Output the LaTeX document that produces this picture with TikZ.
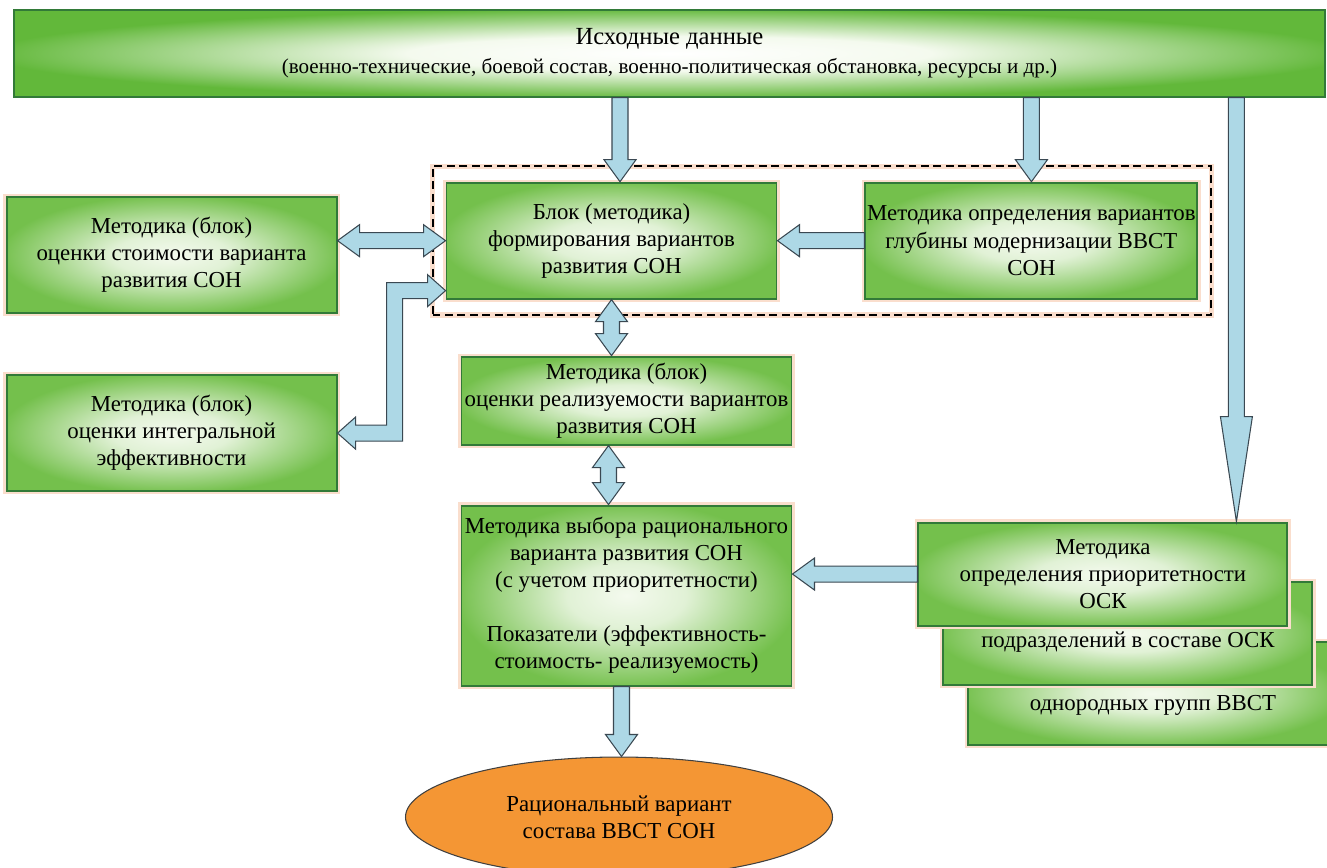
\documentclass[tikz,border=0pt]{standalone}
\usepackage{fontspec}
\setmainfont{Liberation Serif}
\newfontfamily\boxfont{Liberation Serif}
\usepackage{tikz}
\usetikzlibrary{positioning}
\usetikzlibrary{calc}
\usetikzlibrary{fit}
\usetikzlibrary{shapes.geometric}
\usepackage{xcolor}

\definecolor{boxout}{RGB}{116,192,76}
\definecolor{boxin}{RGB}{244,250,238}
\definecolor{barout}{RGB}{98,184,58}
\definecolor{boxline}{RGB}{50,122,56}
\definecolor{flowfill}{RGB}{173,216,230}
\definecolor{flowline}{RGB}{58,72,82}
\definecolor{resfill}{RGB}{244,150,52}
\definecolor{halo}{RGB}{250,222,205}

\pgfdeclareradialshading{glow}{\pgfpoint{0bp}{0bp}}{color(0bp)=(boxin); color(9bp)=(boxin!85!boxout); color(26bp)=(boxout); color(50bp)=(boxout)}
\pgfdeclareradialshading{barglow}{\pgfpoint{0bp}{0bp}}{color(0bp)=(white); color(10bp)=(boxin); color(26bp)=(barout); color(50bp)=(barout)}

\tikzset{
	method/.style={rectangle, draw=boxline, line width=1.1pt, shade, shading=glow, preaction={draw=halo, line width=3.5pt}, minimum width=6.6cm, minimum height=2.32cm, align=center, inner sep=1pt, font=\boxfont\fontsize{13}{15.4}\selectfont},
	prio/.style={method, minimum width=7.38cm, minimum height=2.06cm},
	topbar/.style={rectangle, draw=boxline, line width=0.8pt, shade, shading=barglow, minimum width=26.22cm, minimum height=1.74cm, align=center, font=\boxfont\fontsize{12}{15.4}\selectfont},
	result/.style={ellipse, draw=black!75, line width=0.6pt, fill=resfill, minimum width=8.54cm, minimum height=2.4cm, align=center, font=\boxfont\fontsize{13}{15.4}\selectfont},
	lbl/.style={align=center, font=\boxfont\fontsize{13}{15.4}\selectfont},
	frame/.style={draw=black, line width=1.1pt, dash pattern=on 4.5pt off 2.6pt, preaction={draw=halo, line width=3pt, solid}, inner xsep=0.26cm, inner ysep=0.31cm},
	flow/.style={fill=flowfill, draw=flowline, line width=0.6pt, line join=miter}
}

% block arrow from #2 to #3, optional head length
\newcommand{\barrow}[3][0.44cm]{%
	\coordinate (hb) at ($(#3)!#1!(#2)$);
	\draw[flow] ($(#2)!0.16cm!90:(#3)$) -- ($(hb)!0.16cm!90:(#3)$) -- ($(hb)!0.32cm!90:(#3)$) -- (#3) -- ($(hb)!0.32cm!-90:(#3)$) -- ($(hb)!0.16cm!-90:(#3)$) -- ($(#2)!0.16cm!-90:(#3)$) -- cycle;}
% two-headed block arrow
\newcommand{\dbarrow}[2]{%
	\coordinate (ha) at ($(#1)!0.44cm!(#2)$);
	\coordinate (hb) at ($(#2)!0.44cm!(#1)$);
	\draw[flow] (#1) -- ($(ha)!0.32cm!90:(#2)$) -- ($(ha)!0.16cm!90:(#2)$) -- ($(hb)!0.16cm!90:(#2)$) -- ($(hb)!0.32cm!90:(#2)$) -- (#2) -- ($(hb)!0.32cm!-90:(#2)$) -- ($(hb)!0.16cm!-90:(#2)$) -- ($(ha)!0.16cm!-90:(#2)$) -- ($(ha)!0.32cm!-90:(#2)$) -- cycle;}

\begin{document}
\begin{tikzpicture}
	\useasboundingbox (0,0) rectangle (26.54,-17.36);

	\node[topbar](src) at (13.39,-1.07){{\fontsize{14}{16}\selectfont Исходные данные}\\[1pt](военно-технические, боевой состав, военно-политическая обстановка, ресурсы и др.)};

	\node[method, below=1.68cm of src, xshift=-1.16cm](form){Блок (методика)\\формирования вариантов\\развития СОН};
	\node[method, right=1.74cm of form](depth){Методика определения вариантов\\глубины модернизации ВВСТ\\СОН};
	\node[method, left=2.16cm of form, yshift=-0.29cm](cost){Методика (блок)\\оценки стоимости варианта\\развития СОН};
	\node[method, below=1.2cm of cost](integ){Методика (блок)\\оценки интегральной\\эффективности};
	\node[method, below=1.12cm of form, xshift=0.3cm, minimum height=1.76cm](feas){Методика (блок)\\оценки реализуемости вариантов\\развития СОН};
	\node[method, below=1.18cm of feas, minimum height=3.6cm](choice){Методика выбора рационального\\варианта развития СОН\\(с учетом приоритетности)\\[15.4pt]Показатели (эффективность-\\стоимость- реализуемость)};
	\node[result, below=1.4cm of choice, xshift=-0.15cm](res){Рациональный вариант\\состава ВВСТ СОН};

	\node[frame, fit=(form)(depth)](modgroup){};

	% priority blocks, back to front
	\node[prio, right=3.5cm of choice, yshift=-1.96cm](prio3){};
	\node[prio, right=3.0cm of choice, yshift=-0.76cm](prio2){};
	\node[prio, right=2.5cm of choice, yshift=0.43cm](prio1){Методика\\определения приоритетности\\ОСК};
	\node[lbl](prio2t) at ([yshift=-0.18cm]prio2){подразделений в составе ОСК};
	\node[lbl](prio3t) at ([yshift=-0.24cm]prio3){однородных групп ВВСТ};

	\coordinate (t1) at ([xshift=0.17cm]form.north);
	\coordinate (s1) at (src.south -| t1);
	\barrow{s1}{t1}
	\coordinate (s2) at (src.south -| depth.north);
	\barrow{s2}{depth.north}
	\coordinate (t3) at ([xshift=-1.04cm]prio1.north east);
	\coordinate (s3) at (src.south -| t3);
	\barrow[2.1cm]{s3}{t3}

	\coordinate (c1) at (cost.east |- form.west);
	\dbarrow{c1}{form.west}
	\barrow{depth.west}{form.east}
	\coordinate (v1) at (form.south |- feas.north);
	\dbarrow{form.south}{v1}
	\coordinate (v2) at ([xshift=-0.36cm]feas.south);
	\coordinate (v3) at (v2 |- choice.north);
	\dbarrow{v2}{v3}
	\coordinate (p1) at (prio1.west -| choice.east);
	\barrow{prio1.west}{p1}
	\coordinate (r1) at ([xshift=-0.1cm]choice.south);
	\coordinate (r2) at (r1 |- res.north);
	\barrow{r1}{r2}

	% elbow between integ and form
	\coordinate (e1) at ([yshift=0.18cm]form.south west);
	\coordinate (e2) at (integ.east);
	\draw[flow] let \p1=(e1), \p2=(e2), \n1={\x2+1.14cm} in
		(\x1,\y1) -- (\x1-0.36cm,\y1+0.32cm) -- (\x1-0.36cm,\y1+0.16cm) -- (\n1-0.16cm,\y1+0.16cm)
		-- (\n1-0.16cm,\y2+0.16cm) -- (\x2+0.36cm,\y2+0.16cm) -- (\x2+0.36cm,\y2+0.32cm) -- (\x2,\y2)
		-- (\x2+0.36cm,\y2-0.32cm) -- (\x2+0.36cm,\y2-0.16cm) -- (\n1+0.16cm,\y2-0.16cm)
		-- (\n1+0.16cm,\y1-0.16cm) -- (\x1-0.36cm,\y1-0.16cm) -- (\x1-0.36cm,\y1-0.32cm) -- cycle;
\end{tikzpicture}
\end{document}
